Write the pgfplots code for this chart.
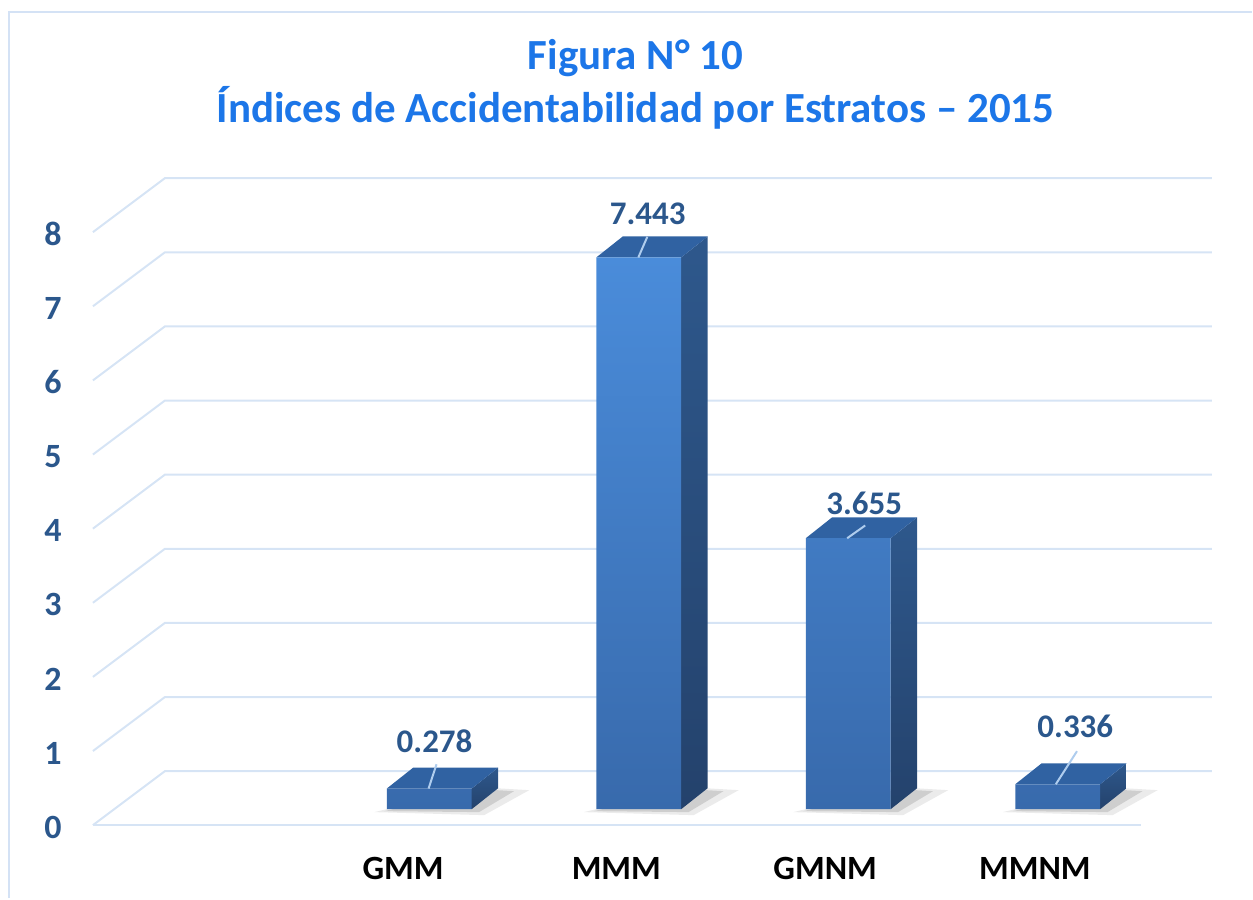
\documentclass[border=0pt]{standalone}
\usepackage{fontspec}
\setmainfont{Carlito}
\usepackage{pgfplots}
\pgfplotsset{compat=1.18}
\definecolor{gridc}{RGB}{214,228,245}
\definecolor{framec}{RGB}{212,226,245}
\definecolor{titlec}{RGB}{28,118,232}
\definecolor{labc}{RGB}{43,87,140}
\definecolor{frontTop}{RGB}{74,140,218}
\definecolor{frontBot}{RGB}{56,106,172}
\definecolor{topc}{RGB}{48,98,162}
\definecolor{sideTop}{RGB}{46,88,140}
\definecolor{sideBot}{RGB}{36,66,108}
\definecolor{leadc}{RGB}{175,205,238}
\pgfplotstableread{
x v
1 0.278
2 7.443
3 3.655
4 0.336
}\bars
\begin{document}
\begin{tikzpicture}
\begin{axis}[
  width=626.5pt, height=449.5pt, scale only axis,
  xmin=-1.0491, xmax=4.9261, ymin=-1.1995, ymax=10.9164,
  axis lines=none, xtick=\empty, ytick=\empty,
  clip=false,
]
\path (rel axis cs:0,0) rectangle (rel axis cs:1,1);
% frame
\addplot[framec, line width=1.3pt] coordinates {(-1.0062,-1.1995) (-1.0062,10.755) (4.9261,10.755)};
% grid: side wall + back wall
\addplot[gridc, line width=1pt] coordinates {(-0.6056,-0.2156) (-0.2623,0.5121) (4.7353,0.5121)};
\addplot[gridc, line width=1pt] coordinates {(-0.6056,0.7844) (-0.2623,1.5121) (4.7353,1.5121)};
\addplot[gridc, line width=1pt] coordinates {(-0.6056,1.7844) (-0.2623,2.5121) (4.7353,2.5121)};
\addplot[gridc, line width=1pt] coordinates {(-0.6056,2.7844) (-0.2623,3.5121) (4.7353,3.5121)};
\addplot[gridc, line width=1pt] coordinates {(-0.6056,3.7844) (-0.2623,4.5121) (4.7353,4.5121)};
\addplot[gridc, line width=1pt] coordinates {(-0.6056,4.7844) (-0.2623,5.5121) (4.7353,5.5121)};
\addplot[gridc, line width=1pt] coordinates {(-0.6056,5.7844) (-0.2623,6.5121) (4.7353,6.5121)};
\addplot[gridc, line width=1pt] coordinates {(-0.6056,6.7844) (-0.2623,7.5121) (4.7353,7.5121)};
\addplot[gridc, line width=1pt] coordinates {(-0.6056,7.7844) (-0.2623,8.5121) (4.7353,8.5121)};
% floor front edge
\addplot[gridc, line width=1pt] coordinates {(-0.6056,-0.2156) (4.3968,-0.2156)};
% shadows
\addplot[draw=none, fill=black, opacity=0.08] coordinates {(0.738,-0.040) (1.262,-0.081) (1.477,0.256) (1.238,0.296)} -- cycle;
\addplot[draw=none, fill=black, opacity=0.12] coordinates {(0.785,-0.027) (1.238,-0.040) (1.405,0.243) (1.238,0.270)} -- cycle;
\addplot[draw=none, fill=black, opacity=0.08] coordinates {(1.738,-0.040) (2.262,-0.081) (2.477,0.256) (2.238,0.296)} -- cycle;
\addplot[draw=none, fill=black, opacity=0.12] coordinates {(1.785,-0.027) (2.238,-0.040) (2.405,0.243) (2.238,0.270)} -- cycle;
\addplot[draw=none, fill=black, opacity=0.08] coordinates {(2.738,-0.040) (3.262,-0.081) (3.477,0.256) (3.238,0.296)} -- cycle;
\addplot[draw=none, fill=black, opacity=0.12] coordinates {(2.785,-0.027) (3.238,-0.040) (3.405,0.243) (3.238,0.270)} -- cycle;
\addplot[draw=none, fill=black, opacity=0.08] coordinates {(3.738,-0.040) (4.262,-0.081) (4.477,0.256) (4.238,0.296)} -- cycle;
\addplot[draw=none, fill=black, opacity=0.12] coordinates {(3.785,-0.027) (4.238,-0.040) (4.405,0.243) (4.238,0.270)} -- cycle;
% side faces
\addplot[draw=none, top color=sideTop, bottom color=sideBot] coordinates {(1.2027,0) (1.3291,0.283) (1.3291,0.561) (1.2027,0.278)} -- cycle;
\addplot[draw=none, top color=sideTop, bottom color=sideBot] coordinates {(2.2027,0) (2.3291,0.283) (2.3291,7.726) (2.2027,7.443)} -- cycle;
\addplot[draw=none, top color=sideTop, bottom color=sideBot] coordinates {(3.2027,0) (3.3291,0.283) (3.3291,3.938) (3.2027,3.655)} -- cycle;
\addplot[draw=none, top color=sideTop, bottom color=sideBot] coordinates {(4.2027,0) (4.3291,0.283) (4.3291,0.619) (4.2027,0.336)} -- cycle;
% top faces
\addplot[draw=none, fill=topc] coordinates {(0.7973,0.278) (1.2027,0.278) (1.3291,0.561) (0.9237,0.561)} -- cycle;
\addplot[draw=none, fill=topc] coordinates {(1.7973,7.443) (2.2027,7.443) (2.3291,7.726) (1.9237,7.726)} -- cycle;
\addplot[draw=none, fill=topc] coordinates {(2.7973,3.655) (3.2027,3.655) (3.3291,3.938) (2.9237,3.938)} -- cycle;
\addplot[draw=none, fill=topc] coordinates {(3.7973,0.336) (4.2027,0.336) (4.3291,0.619) (3.9237,0.619)} -- cycle;
% front faces
\addplot[ybar, bar width=0.4054, draw=none, top color=frontTop, bottom color=frontBot] table[x=x, y=v] {\bars};
% leader lines
\addplot[leadc, line width=1pt] coordinates {(0.9967,0.278) (1.0348,0.6065)};
\addplot[leadc, line width=1pt] coordinates {(1.998,7.443) (2.041,7.722)};
\addplot[leadc, line width=1pt] coordinates {(2.995,3.655) (3.081,3.827)};
\addplot[leadc, line width=1pt] coordinates {(3.991,0.336) (4.092,0.782)};
% data labels
\begin{scope}[every node/.style={font=\fontsize{16.5}{19}\selectfont\bfseries, text=labc, inner sep=0pt}]
\node at (axis cs:1.0253,0.9097) {0.278};
\node at (axis cs:2.043,8.032) {7.443};
\node at (axis cs:3.076,4.124) {3.655};
\node at (axis cs:4.084,1.112) {0.336};
\end{scope}
% y tick labels
\begin{scope}[every node/.style={font=\fontsize{17}{20}\selectfont\bfseries, text=labc, inner sep=0pt}]
\node at (axis cs:-0.7964,-0.243) {0};
\node at (axis cs:-0.7964,0.757) {1};
\node at (axis cs:-0.7964,1.757) {2};
\node at (axis cs:-0.7964,2.757) {3};
\node at (axis cs:-0.7964,3.757) {4};
\node at (axis cs:-0.7964,4.757) {5};
\node at (axis cs:-0.7964,5.757) {6};
\node at (axis cs:-0.7964,6.757) {7};
\node at (axis cs:-0.7964,7.757) {8};
\end{scope}
% category labels
\begin{scope}[every node/.style={font=\fontsize{17}{20}\selectfont\bfseries, text=black, inner sep=0pt, anchor=base}]
\node at (axis cs:0.875,-0.943) {GMM};
\node at (axis cs:1.893,-0.943) {MMM};
\node at (axis cs:2.890,-0.943) {GMNM};
\node at (axis cs:3.891,-0.943) {MMNM};
\end{scope}
% title
\begin{scope}[every node/.style={font=\fontsize{21.5}{26}\selectfont\bfseries, text=titlec, inner sep=0pt, anchor=base}]
\node at (axis cs:1.984,9.973) {Figura N° 10};
\node at (axis cs:1.984,9.259) {Índices de Accidentabilidad por Estratos – 2015};
\end{scope}
\end{axis}
\end{tikzpicture}
\end{document}
